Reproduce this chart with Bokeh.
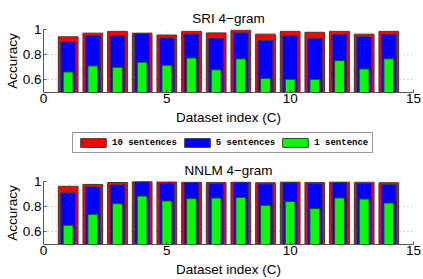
from bokeh.plotting import figure
from bokeh.layouts import column
from bokeh.models import Range1d, FixedTicker, Legend, LegendItem
from bokeh.embed import file_html
from bokeh.resources import INLINE

datasets = list(range(1, 15))

sri_10 = [0.942, 0.971, 0.985, 0.971, 0.956, 0.985, 0.973, 0.995, 0.963, 0.985, 0.978, 0.985, 0.963, 0.985]
sri_5 = [0.900, 0.951, 0.949, 0.966, 0.932, 0.963, 0.930, 0.973, 0.912, 0.949, 0.927, 0.959, 0.942, 0.959]
sri_1 = [0.663, 0.711, 0.700, 0.740, 0.716, 0.774, 0.680, 0.767, 0.612, 0.605, 0.605, 0.753, 0.687, 0.767]

nnlm_10 = [0.962, 0.977, 0.992, 1.000, 0.998, 0.995, 0.993, 0.996, 0.990, 0.997, 0.993, 0.997, 0.995, 0.990]
nnlm_5 = [0.909, 0.957, 0.972, 0.998, 0.987, 0.992, 0.982, 0.992, 0.980, 0.992, 0.982, 0.992, 0.987, 0.977]
nnlm_1 = [0.653, 0.740, 0.824, 0.884, 0.846, 0.864, 0.869, 0.874, 0.811, 0.841, 0.786, 0.869, 0.861, 0.829]

x_ticks = [0, 5, 10, 15]
y_ticks = [0.6, 0.8, 1.0]
y_tick_labels = ["0.6", "0.8", "1"]
series_labels = ["10 sentences", "5 sentences", "1 sentence"]
colors = ["#ff0000", "#0000ff", "#00ff00"]
bar_widths = [0.8, 0.6, 0.4]

FONT = "Liberation Sans"
FS = "13.5px"
W = 423


def add_bars(p, series):
    rs = []
    for vals, c, w in zip(series, colors, bar_widths):
        rs.append(p.vbar(x=datasets, top=vals, bottom=0, width=w, fill_color=c,
                         line_color="#3a3a3a", line_width=1))
    return rs


def make_plot(title, series, height, top, bottom):
    p = figure(width=W, height=height, x_range=Range1d(0, 15), y_range=Range1d(0.5, 1.0),
               output_backend="svg", toolbar_location=None, title=title,
               min_border_left=43, min_border_right=10,
               min_border_top=top, min_border_bottom=bottom)
    p.outline_line_color = None
    add_bars(p, series)
    p.xaxis.ticker = FixedTicker(ticks=x_ticks)
    p.yaxis.ticker = FixedTicker(ticks=y_ticks)
    p.yaxis.major_label_overrides = {t: l for t, l in zip(y_ticks, y_tick_labels)}
    for ax in (p.xaxis[0], p.yaxis[0]):
        ax.major_tick_in = 3
        ax.major_tick_out = 0
        ax.minor_tick_line_color = None
        ax.axis_line_color = "#555555"
        ax.major_tick_line_color = "#555555"
        ax.major_label_text_font = FONT
        ax.major_label_text_font_size = FS
        ax.major_label_text_color = "black"
        ax.axis_label_text_font = FONT
        ax.axis_label_text_font_size = FS
        ax.axis_label_text_font_style = "normal"
        ax.axis_label_text_color = "black"
    p.xaxis.major_label_standoff = 1
    p.xaxis.axis_label_standoff = 4
    p.yaxis.major_label_standoff = 2
    p.yaxis.axis_label_standoff = 0
    p.xaxis.axis_label = "Dataset index (C)"
    p.yaxis.axis_label = "Accuracy"
    p.grid.grid_line_color = "#b0b0b0"
    p.grid.grid_line_dash = "1 3"
    p.title.text_font = FONT
    p.title.text_font_size = FS
    p.title.text_font_style = "normal"
    p.title.text_color = "black"
    p.title.align = "center"
    p.title.standoff = 7
    return p


p1 = make_plot("SRI 4\u2212gram", [sri_10, sri_5, sri_1], 127, 29, 31)

# legend strip: no axes; its bar renderers are hidden, only the legend is drawn
pleg = figure(width=W, height=30, x_range=Range1d(0, 15), y_range=Range1d(0.5, 1.0),
              output_backend="svg", toolbar_location=None,
              x_axis_location=None, y_axis_location=None,
              min_border_left=0, min_border_right=0, min_border_top=0, min_border_bottom=0)
pleg.outline_line_color = None
pleg.grid.visible = False
rs = add_bars(pleg, [nnlm_10, nnlm_5, nnlm_1])
for r in rs:
    r.visible = False
legend = Legend(items=[LegendItem(label=l, renderers=[r]) for l, r in zip(series_labels, rs)],
                orientation="horizontal", location=(29, 4),
                glyph_width=32, glyph_height=11, label_height=11,
                padding=4, spacing=4, label_standoff=3, margin=0,
                label_text_font="Liberation Mono", label_text_font_size="9px",
                label_text_font_style="bold", label_text_color="black",
                border_line_color="#333333", border_line_width=1,
                background_fill_color="white")
pleg.add_layout(legend)

p2 = make_plot("NNLM 4\u2212gram", [nnlm_10, nnlm_5, nnlm_1], 122, 21, 34)

layout = column(p1, pleg, p2, spacing=0)
open("out.html", "w").write(file_html(layout, INLINE))
